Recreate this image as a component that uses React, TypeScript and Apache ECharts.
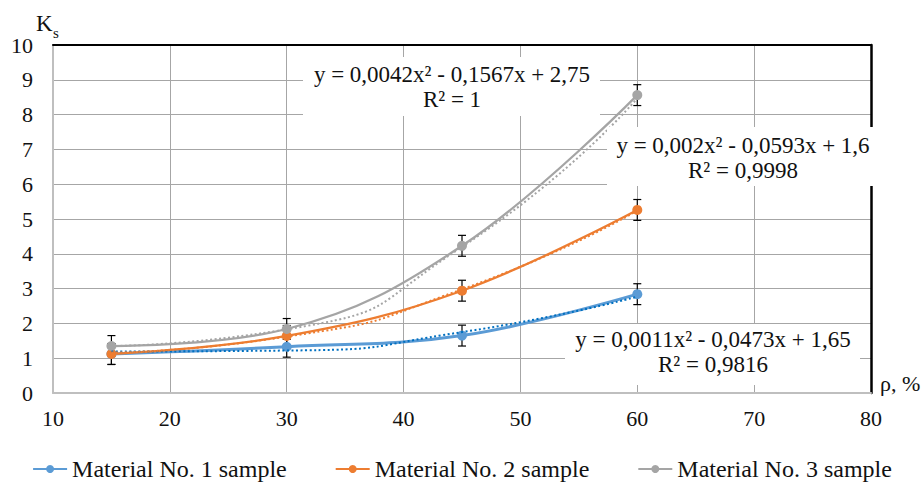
import React, { useEffect, useRef } from "react";
import * as echarts from "echarts";

const xValues = [15, 30, 45, 60];
const seriesNames = ["Material No. 1 sample", "Material No. 2 sample", "Material No. 3 sample"];
const material1 = [1.12, 1.33, 1.65, 2.84];
const material2 = [1.12, 1.64, 2.94, 5.26];
const material3 = [1.35, 1.84, 4.23, 8.56];
const errorMargin = 0.3;
const trend1 = [1.19, 1.22, 1.75, 2.77];
const trend2 = [1.16, 1.62, 2.98, 5.24];
const trend3 = [1.35, 1.83, 4.2, 8.47];
const colors = ["#5B9BD5", "#ED7D31", "#A5A5A5"];
const trendColors = ["#0070C0", "#ED7D31", "#A5A5A5"];
const equations = [
  ["y = 0,0011x² - 0,0473x + 1,65", "R² = 0,9816"],
  ["y = 0,002x² - 0,0593x + 1,6", "R² = 0,9998"],
  ["y = 0,0042x² - 0,1567x + 2,75", "R² = 1"],
];
const xTicks = { min: 10, max: 80, interval: 10 };
const yTicks = { min: 0, max: 10, interval: 1 };

const FONT = "Liberation Serif";

export default function App() {
  const ref = useRef<HTMLDivElement>(null);
  useEffect(() => {
    if (!ref.current) return;
    const chart = echarts.init(ref.current, null, { renderer: "svg" });
    const all = [material1, material2, material3];
    const trends = [trend1, trend2, trend3];
    const lineWidths = [3, 2.25, 2.25];
    const series: any[] = [];
    all.forEach((vals, si) => {
      series.push({
        type: "custom",
        name: "err" + si,
        xAxisIndex: 0,
        yAxisIndex: 0,
        data: xValues.map((x, i) => [x, vals[i] - errorMargin, vals[i] + errorMargin]),
        renderItem: (params: any, api: any) => {
          const x = api.value(0);
          const p1 = api.coord([x, api.value(2)]);
          const p2 = api.coord([x, api.value(1)]);
          const w = 4;
          const st = { stroke: "#000", lineWidth: 1.2 };
          return {
            type: "group",
            children: [
              { type: "line", shape: { x1: p1[0], y1: p1[1], x2: p2[0], y2: p2[1] }, style: st },
              { type: "line", shape: { x1: p1[0] - w, y1: p1[1], x2: p1[0] + w, y2: p1[1] }, style: st },
              { type: "line", shape: { x1: p2[0] - w, y1: p2[1], x2: p2[0] + w, y2: p2[1] }, style: st },
            ],
          };
        },
        z: 2,
      });
    });
    all.forEach((vals, si) => {
      series.push({
        type: "line",
        name: seriesNames[si],
        data: xValues.map((x, i) => [x, vals[i]]),
        smooth: 0.4,
        symbol: "circle",
        symbolSize: 10,
        itemStyle: { color: colors[si] },
        lineStyle: { color: colors[si], width: lineWidths[si] },
        z: 3,
      });
    });
    trends.forEach((vals, si) => {
      series.push({
        type: "line",
        name: "trend" + si,
        data: xValues.map((x, i) => [x, vals[i]]),
        smooth: 0.6,
        showSymbol: false,
        symbol: "none",
        lineStyle: { color: trendColors[si], width: 2, type: [2, 2.5] },
        z: 4,
      });
    });

    const labelBoxes = [
      { x: 565, y: 324, w: 295, h: 61, cx: 713, y1: 339, y2: 364 },
      { x: 607, y: 127, w: 275, h: 59, cx: 743, y1: 145, y2: 170 },
      { x: 303, y: 57, w: 297, h: 59, cx: 452, y1: 74, y2: 99 },
    ];
    const graphic: any[] = [];
    labelBoxes.forEach((b, i) => {
      graphic.push({
        type: "rect",
        z: 100,
        shape: { x: b.x, y: b.y, width: b.w, height: b.h },
        style: { fill: "#fff" },
      });
      graphic.push({
        type: "text",
        z: 101,
        x: b.cx,
        y: b.y1,
        style: { text: equations[i][0], fontFamily: FONT, fontSize: 23, fill: "#111", textAlign: "center", textVerticalAlign: "middle" },
      });
      graphic.push({
        type: "text",
        z: 101,
        x: b.cx,
        y: b.y2,
        style: { text: equations[i][1], fontFamily: FONT, fontSize: 23, fill: "#111", textAlign: "center", textVerticalAlign: "middle" },
      });
    });
    graphic.push({
      type: "text",
      x: 36,
      y: 23,
      z: 100,
      style: { text: "K", fontFamily: FONT, fontSize: 23, fill: "#111", textVerticalAlign: "middle" },
    });
    graphic.push({
      type: "text",
      x: 53,
      y: 33,
      z: 100,
      style: { text: "s", fontFamily: FONT, fontSize: 15, fill: "#111", textVerticalAlign: "middle" },
    });
    graphic.push({
      type: "text",
      x: 880,
      y: 383,
      z: 100,
      style: { text: "ρ, %", fontFamily: FONT, fontSize: 22, fill: "#111", textVerticalAlign: "middle" },
    });

    const labelStyle = { fontFamily: FONT, fontSize: 22, color: "#111" };
    chart.setOption({
      animation: false,
      textStyle: { fontFamily: FONT },
      grid: { left: 53, right: 53, top: 45, bottom: 90, containLabel: false },
      legend: {
        data: seriesNames,
        top: 452,
        left: "center",
        itemWidth: 34,
        itemHeight: 10,
        itemGap: 48,
        textStyle: { fontFamily: FONT, fontSize: 24, color: "#111" },
      },
      xAxis: [
        {
          type: "value",
          ...xTicks,
          axisLine: { show: true, lineStyle: { color: "#BFBFBF", width: 2 } },
          axisTick: { show: false },
          axisLabel: { ...labelStyle, margin: 14 },
          splitLine: { show: true, lineStyle: { color: "#A6A6A6", width: 1 } },
        },
        {
          type: "value",
          position: "top",
          ...xTicks,
          axisLine: { show: true, onZero: false, lineStyle: { color: "#000", width: 2 } },
          axisTick: { show: false },
          axisLabel: { show: false },
          splitLine: { show: false },
        },
      ],
      yAxis: [
        {
          type: "value",
          ...yTicks,
          axisLine: { show: true, lineStyle: { color: "#BFBFBF", width: 2 } },
          axisTick: { show: false },
          axisLabel: { ...labelStyle, margin: 20 },
          splitLine: { show: true, lineStyle: { color: "#A6A6A6", width: 1 } },
        },
        {
          type: "value",
          position: "right",
          ...yTicks,
          axisLine: { show: true, onZero: false, lineStyle: { color: "#000", width: 2.5 } },
          axisTick: { show: false },
          axisLabel: { show: false },
          splitLine: { show: false },
        },
      ],
      series,
      graphic,
    });
    return () => chart.dispose();
  }, []);
  return (
    <div
      ref={ref}
      style={{ position: "fixed", left: 0, top: 0, width: 924, height: 483, background: "#fff" }}
    />
  );
}
